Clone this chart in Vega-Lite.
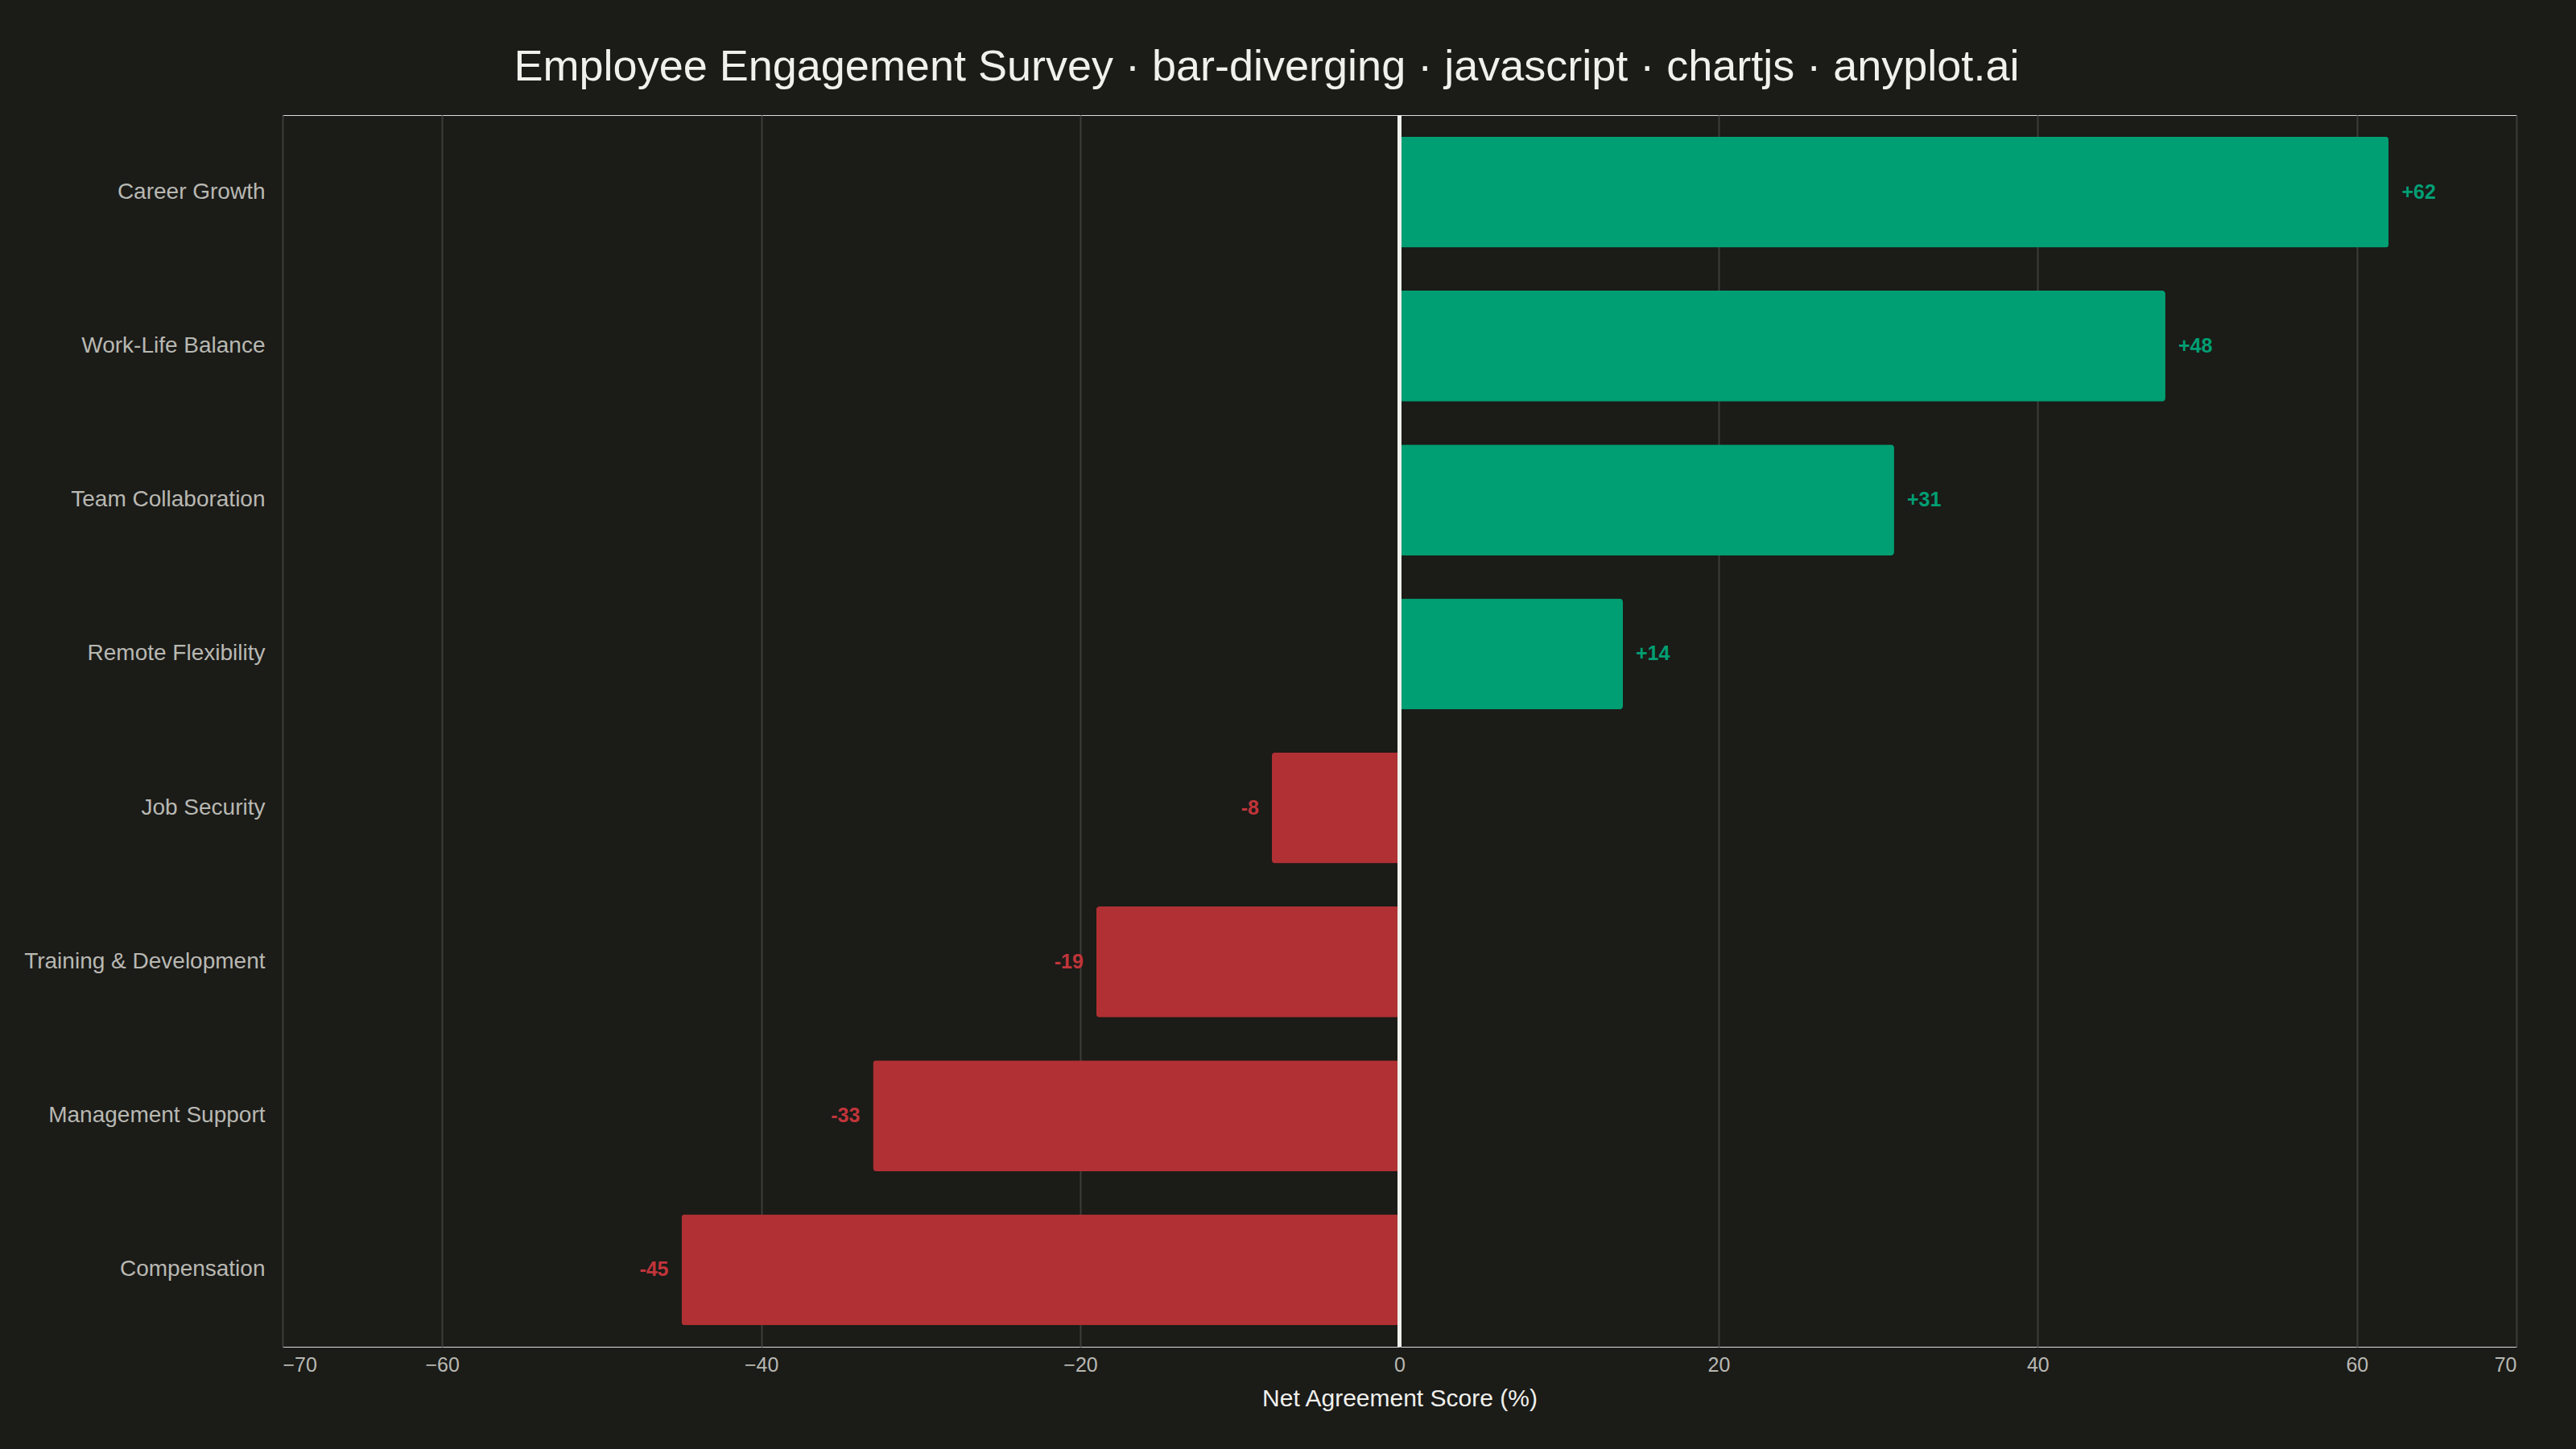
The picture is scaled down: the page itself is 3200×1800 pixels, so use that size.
{
  "$schema": "https://vega.github.io/schema/vega-lite/v6.json",
  "background": "#1b1b18",
  "autosize": "none",
  "padding": {"left": 351, "top": 143, "right": 74, "bottom": 127},
  "width": 2775,
  "height": 1530,
  "title": {
    "text": "Employee Engagement Survey · bar-diverging · javascript · chartjs · anyplot.ai",
    "font": "Liberation Sans",
    "fontSize": 54,
    "fontWeight": "normal",
    "color": "#f0f0ec",
    "anchor": "middle",
    "frame": "group",
    "dx": -165,
    "offset": 30
  },
  "data": {
    "values": [
      {"area": "Career Growth", "score": 62, "label": "+62"},
      {"area": "Work-Life Balance", "score": 48, "label": "+48"},
      {"area": "Team Collaboration", "score": 31, "label": "+31"},
      {"area": "Remote Flexibility", "score": 14, "label": "+14"},
      {"area": "Job Security", "score": -8, "label": "-8"},
      {"area": "Training & Development", "score": -19, "label": "-19"},
      {"area": "Management Support", "score": -33, "label": "-33"},
      {"area": "Compensation", "score": -45, "label": "-45"}
    ]
  },
  "encoding": {
    "y": {
      "field": "area",
      "type": "nominal",
      "sort": null,
      "scale": {"paddingInner": 0.28, "paddingOuter": 0.14},
      "axis": {
        "title": null,
        "domain": false,
        "ticks": false,
        "grid": false,
        "labelFont": "Liberation Sans",
        "labelFontSize": 28,
        "labelColor": "#b8b8b2",
        "labelPadding": 22,
        "labelLimit": 600
      }
    }
  },
  "layer": [
    {
      "mark": {"type": "bar", "cornerRadius": 4},
      "encoding": {
        "x": {
          "field": "score",
          "type": "quantitative",
          "scale": {"domain": [-70, 70], "nice": false},
          "axis": {
            "values": [-70, -60, -40, -20, 0, 20, 40, 60, 70],
            "title": "Net Agreement Score (%)",
            "titleFont": "Liberation Sans",
            "titleFontSize": 30,
            "titleFontWeight": "normal",
            "titleColor": "#f0f0ec",
            "titlePadding": 14,
            "labelFont": "Liberation Sans",
            "labelFontSize": 25,
            "labelColor": "#b8b8b2",
            "labelPadding": 10,
            "domain": false,
            "ticks": false,
            "gridColor": "#3c3c38",
            "gridWidth": 2
          }
        },
        "color": {
          "condition": {"test": "datum.score >= 0", "value": "#009e73"},
          "value": "#b03033"
        }
      }
    },
    {
      "transform": [{"filter": "datum.score >= 0"}],
      "mark": {"type": "text", "align": "left", "dx": 16, "font": "Liberation Sans", "fontSize": 25, "fontWeight": "bold", "color": "#009e73"},
      "encoding": {
        "x": {"field": "score", "type": "quantitative"},
        "text": {"field": "label"}
      }
    },
    {
      "transform": [{"filter": "datum.score < 0"}],
      "mark": {"type": "text", "align": "right", "dx": -16, "font": "Liberation Sans", "fontSize": 25, "fontWeight": "bold", "color": "#c0353a"},
      "encoding": {
        "x": {"field": "score", "type": "quantitative"},
        "text": {"field": "label"}
      }
    },
    {
      "mark": {"type": "rule", "color": "#f0f0ec", "strokeWidth": 4},
      "encoding": {"x": {"datum": 0}, "y": {}}
    }
  ]
}
